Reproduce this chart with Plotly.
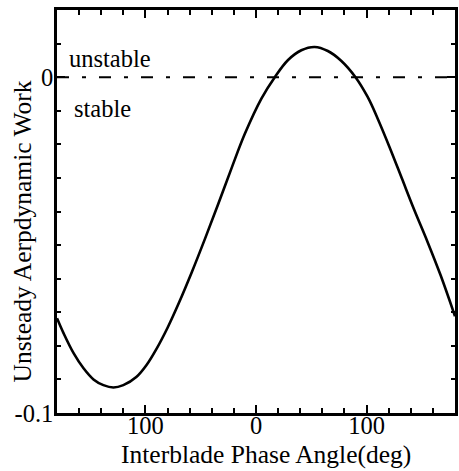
import plotly.graph_objects as go

# Interblade phase angle (deg) and unsteady aerodynamic work
phase_deg = [-180, -174, -165, -156, -147, -138, -129, -120, -108, -99, -90, -80,
             -70, -58, -46, -34, -22, -10, 5, 17, 29, 41, 53, 65, 77, 90,
             101, 110, 121, 132, 143, 155, 167, 180]
work = [-0.0718, -0.0763, -0.0822, -0.0867, -0.0900, -0.0917, -0.0924, -0.0917,
        -0.0892, -0.0857, -0.0809, -0.0746, -0.0674, -0.0580, -0.0480, -0.0376,
        -0.0270, -0.0168, -0.0063, 0.0, 0.0051, 0.0080, 0.0090, 0.0078, 0.0049,
        0.0, -0.0059, -0.0123, -0.0210, -0.0302, -0.0394, -0.0489, -0.0590, -0.0712]

x_tickvals = [-100, 0, 100]
x_ticktext = ["100", "0", "100"]
y_tickvals = [0, -0.1]
y_ticktext = ["0", "-0.1"]

FONT = "Liberation Serif, Times New Roman, serif"

fig = go.Figure()
fig.add_trace(go.Scatter(x=[-180, 180], y=[0, 0], mode="lines",
                         line=dict(color="black", width=2, dash="12px,13px,4px,13px"),
                         hoverinfo="skip", showlegend=False))
fig.add_trace(go.Scatter(x=phase_deg, y=work, mode="lines",
                         line=dict(color="black", width=2.6, shape="spline", smoothing=1.0),
                         showlegend=False))

fig.add_annotation(x=-171, y=0.0057, text="unstable", showarrow=False,
                   xanchor="left", yanchor="middle", font=dict(size=24.5, family=FONT, color="black"))
fig.add_annotation(x=-166.5, y=-0.0092, text="stable", showarrow=False,
                   xanchor="left", yanchor="middle", font=dict(size=24.5, family=FONT, color="black"))

fig.add_annotation(x=0.525, y=-0.103, xref="paper", yref="paper",
                   text="Interblade Phase Angle(deg)", showarrow=False,
                   xanchor="center", yanchor="middle", font=dict(size=25.5, family=FONT, color="black"))
fig.add_annotation(x=-0.0873, y=0.451, xref="paper", yref="paper",
                   text="Unsteady Aerpdynamic Work", showarrow=False, textangle=-90,
                   xanchor="center", yanchor="middle", font=dict(size=25.5, family=FONT, color="black"))

axis_common = dict(showline=True, linecolor="black", linewidth=2.6, mirror="allticks",
                   ticks="inside", ticklen=8, tickwidth=2, tickcolor="black",
                   showgrid=False, zeroline=False,
                   tickfont=dict(size=24.5, family=FONT, color="black"))

fig.update_xaxes(range=[-180, 180], tickmode="array", tickvals=x_tickvals, ticktext=x_ticktext,
                 ticklabelstandoff=-11,
                 minor=dict(dtick=20, tick0=0, ticks="inside", ticklen=5, tickwidth=2,
                            tickcolor="black", showgrid=False),
                 **axis_common)
fig.update_yaxes(range=[-0.1, 0.02], tickmode="array", tickvals=y_tickvals, ticktext=y_ticktext,
                 ticklabelstandoff=-4,
                 minor=dict(dtick=0.01, tick0=0, ticks="inside", ticklen=4, tickwidth=2,
                            tickcolor="black", showgrid=False),
                 **axis_common)

fig.update_layout(width=459, height=471, margin=dict(l=57, r=1, t=10, b=58),
                  paper_bgcolor="white", plot_bgcolor="white",
                  font=dict(family=FONT, color="black"))

fig.write_html("out.html")
